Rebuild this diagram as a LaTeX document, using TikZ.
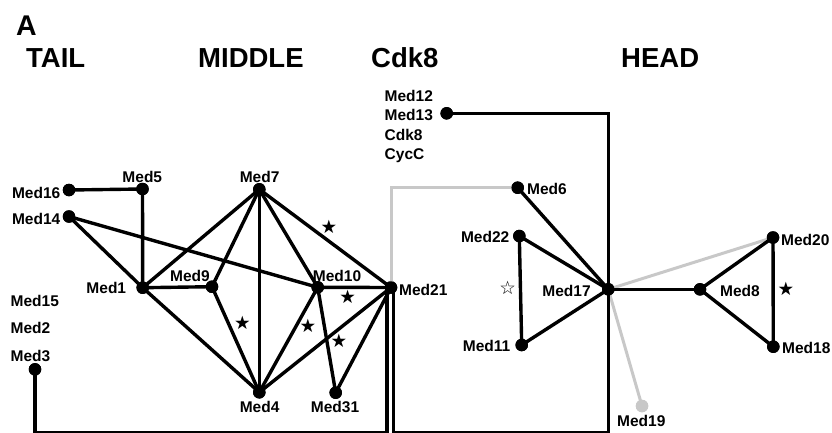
\documentclass[tikz,border=0pt]{standalone}
\usepackage{fontspec}
\setmainfont{Liberation Sans}
\newfontfamily\symfont{DejaVu Sans}
\definecolor{lgray}{RGB}{200,200,200}
\begin{document}
\begin{tikzpicture}[x=1pt,y=-1pt,
  dot/.style={circle,fill=black,inner sep=0pt,minimum size=12.5pt},
  gdot/.style={circle,fill=lgray,inner sep=0pt,minimum size=12.5pt},
  lab/.style={font=\fontsize{15.5}{18}\selectfont\bfseries,inner sep=0pt},
  ttl/.style={font=\fontsize{27.5}{30}\selectfont\bfseries,inner sep=0pt,anchor=base west},
  edge/.style={line width=3.4pt,line join=miter},
  gedge/.style={line width=3pt,draw=lgray},
  starn/.style={font=\fontsize{18.5}{20}\selectfont\symfont,inner sep=0pt}]
\useasboundingbox (0,0) rectangle (832,432);

% titles
\node[ttl,font=\fontsize{28.5}{30}\selectfont\bfseries] (tA) at (16,35) {A};
\node[ttl] (tTail) at (26,67.5) {TAIL};
\node[ttl] (tMid) at (198,67.5) {MIDDLE};
\node[ttl] (tCdk) at (371,67.5) {Cdk8};
\node[ttl] (tHead) at (621,67.5) {HEAD};

% dots
\node[dot] (Med16) at (69,190) {};
\node[dot] (Med5) at (142.5,189) {};
\node[dot] (Med14) at (69,216.5) {};
\node[dot] (Med7) at (259.3,189.3) {};
\node[dot] (Med1) at (142.7,287.7) {};
\node[dot] (Med9) at (212,286.7) {};
\node[dot] (Med10) at (317.7,287.3) {};
\node[dot] (Med21) at (391,287.5) {};
\node[dot] (Med4) at (259.3,392.3) {};
\node[dot] (Med31) at (335.7,392.7) {};
\node[dot] (Med3) at (35,369.3) {};
\node[dot] (Med13) at (446.7,113.3) {};
\node[dot] (Med6) at (517.7,187.7) {};
\node[dot] (Med22) at (519.3,236) {};
\node[dot] (Med11) at (521.7,345) {};
\node[dot] (Med17) at (608.3,289.3) {};
\node[dot] (Med8) at (700,289.3) {};
\node[dot] (Med20) at (773,237.5) {};
\node[dot] (Med18) at (773.3,346.7) {};
\node[gdot] (Med19) at (642,406) {};

\coordinate (botL) at (387,433);
\coordinate (botR) at (393.5,433);

% grey connectors (behind)
\draw[gedge] (Med21.center) |- (Med6.center);
\draw[gedge] (Med17.center) -- (Med20.center);
\draw[gedge] (Med17.center) -- (Med19.center);

% black connectors
\draw[edge] (Med16.center) -- (Med5.center) -- (Med1.center);
\draw[edge] (Med14.center) -- (Med1.center);
\draw[edge] (Med14.center) -- (Med10.center);
\draw[edge] (Med1.center) -- (Med7.center);
\draw[edge] (Med1.center) -- (Med9.center);
\draw[edge] (Med1.center) -- (Med4.center);
\draw[edge] (Med7.center) -- (Med9.center);
\draw[edge] (Med7.center) -- (Med4.center);
\draw[edge] (Med7.center) -- (Med10.center);
\draw[edge] (Med7.center) -- (Med21.center);
\draw[edge] (Med9.center) -- (Med4.center);
\draw[edge] (Med10.center) -- (Med21.center);
\draw[edge] (Med10.center) -- (Med4.center);
\draw[edge] (Med10.center) -- (Med31.center);
\draw[edge] (Med21.center) -- (Med4.center);
\draw[edge] (Med21.center) -- (Med31.center);
\draw[edge] (Med3.center) |- (botL) -- (botL |- Med21.center);
\draw[edge] (Med13.center) -| (Med17.center) |- (botR) -- (botR |- Med21.center);
\draw[edge] (Med6.center) -- (Med17.center);
\draw[edge] (Med22.center) -- (Med17.center);
\draw[edge] (Med11.center) -- (Med17.center);
\draw[edge] (Med22.center) -- (Med11.center);
\draw[edge] (Med17.center) -- (Med8.center);
\draw[edge] (Med8.center) -- (Med20.center) -- (Med18.center) -- cycle;

% redraw dots on top
\foreach \n in {Med16,Med5,Med14,Med7,Med1,Med9,Med10,Med21,Med4,Med31,Med3,Med13,Med6,Med22,Med11,Med17,Med8,Med20,Med18}
  \fill (\n.center) circle (6.25pt);
\fill[lgray] (Med19.center) circle (6.25pt);

% labels
\node[lab,anchor=base east] (l16) at (60.5,198) {Med16};
\node[lab,anchor=base east] (l14) at (60.5,224.5) {Med14};
\node[lab,anchor=base] (l5) at (142.3,182) {Med5};
\node[lab,anchor=base] (l7) at (259.6,182) {Med7};
\node[lab,anchor=base east] (l1) at (126.3,293.3) {Med1};
\node[lab,anchor=base] (l9) at (190,281) {Med9};
\node[lab,anchor=base] (l10) at (337,281) {Med10};
\node[lab,anchor=base west] (l15) at (10.5,306) {Med15};
\node[lab,anchor=base west] (l2) at (10.5,333.3) {Med2};
\node[lab,anchor=base west] (l3) at (10.5,361.5) {Med3};
\node[lab,anchor=base] (l4) at (259.6,412) {Med4};
\node[lab,anchor=base] (l31) at (335,412) {Med31};
\node[lab,anchor=base west] (l21) at (399,295) {Med21};
\node[lab,anchor=base west] (l12) at (384.5,101.5) {Med12};
\node[lab,anchor=base west] (l13) at (384.5,120.5) {Med13};
\node[lab,anchor=base west] (lc8) at (384.5,140) {Cdk8};
\node[lab,anchor=base west] (lcc) at (384.5,159.2) {CycC};
\node[lab,anchor=base west] (l6) at (527,194) {Med6};
\node[lab,anchor=base east] (l22) at (509.5,242.5) {Med22};
\node[lab,anchor=base east] (l11) at (510.5,351) {Med11};
\node[lab,anchor=base] (l17) at (566.5,296) {Med17};
\node[lab,anchor=base west] (l8) at (720,296) {Med8};
\node[lab,anchor=base west] (l20) at (781,245) {Med20};
\node[lab,anchor=base west] (l18) at (782,353) {Med18};
\node[lab,anchor=base] (l19) at (641.3,426.5) {Med19};

% stars
\node[starn] (s1) at (329,226.7) {★};
\node[starn] (s2) at (347.7,297.3) {★};
\node[starn] (s3) at (242.3,323.3) {★};
\node[starn] (s4) at (308,325.7) {★};
\node[starn] (s5) at (339,341) {★};
\node[starn] (s6) at (507.7,288.3) {☆};
\node[starn] (s7) at (786,289.3) {★};
\end{tikzpicture}
\end{document}
